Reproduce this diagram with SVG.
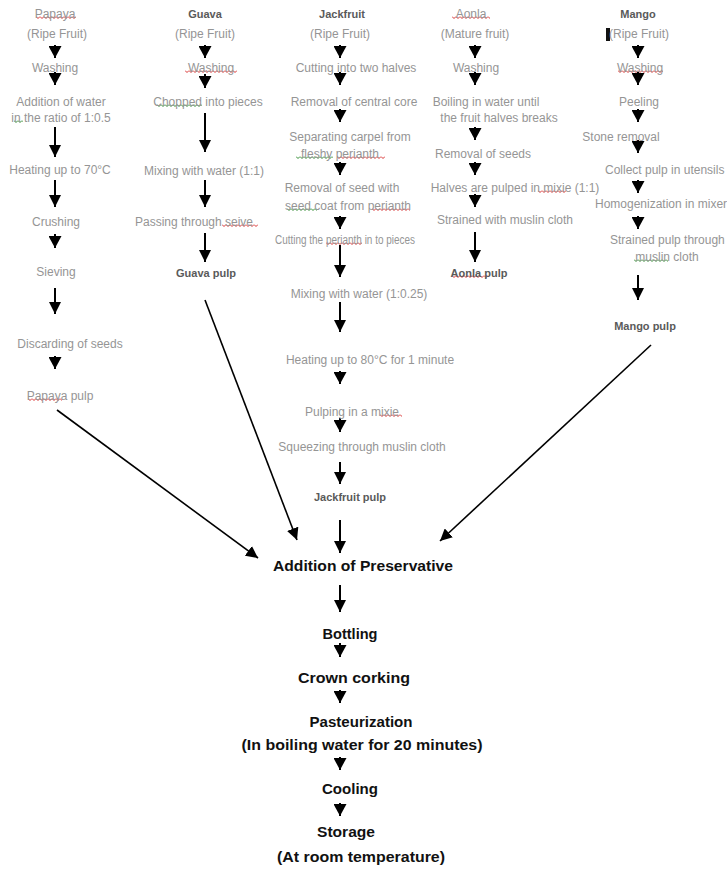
<svg xmlns="http://www.w3.org/2000/svg" width="727" height="869" viewBox="0 0 727 869">
<defs>
<style>
.s{font-family:"Liberation Sans",Arial,sans-serif;font-size:12px;fill:#959595;text-anchor:middle}
.h{font-family:"Liberation Sans",Arial,sans-serif;font-size:11px;font-weight:bold;fill:#5a5a5a;text-anchor:middle}
.b{font-family:"Liberation Sans",Arial,sans-serif;font-size:14.5px;font-weight:bold;fill:#111;text-anchor:middle}
.st{text-anchor:start}
.c line{stroke:#000;stroke-width:2;fill:none}
.c .d{stroke-width:1.6}
</style>
<marker id="tri" markerUnits="userSpaceOnUse" markerWidth="13" markerHeight="13" refX="12" refY="6.5" orient="auto" viewBox="0 0 13 13">
<path d="M0,0 L12,6.5 L0,13 z" fill="#000"/>
</marker>
<marker id="ah" markerUnits="userSpaceOnUse" markerWidth="13" markerHeight="12" refX="12" refY="6" orient="auto" viewBox="0 0 13 12">
<path d="M0,0 L12,6 L0,12 z" fill="#000"/>
</marker>
<pattern id="sqR" patternUnits="userSpaceOnUse" width="4" height="3">
<path d="M0,0.5 L2,2.5 L4,0.5" stroke="#d83030" stroke-width="1" fill="none"/>
</pattern>
<pattern id="sqG" patternUnits="userSpaceOnUse" width="4" height="3">
<path d="M0,0.5 L2,2.5 L4,0.5" stroke="#2e8a2e" stroke-width="1" fill="none"/>
</pattern>
</defs>
<rect width="727" height="869" fill="#fff"/>

<g id="connectors" class="c">
<!-- Papaya -->
<line x1="55" y1="45" x2="55" y2="58" marker-end="url(#tri)"/>
<line x1="55" y1="72" x2="55" y2="85" marker-end="url(#tri)"/>
<line x1="55" y1="127" x2="55" y2="157" marker-end="url(#ah)"/>
<line x1="55" y1="180" x2="55" y2="207" marker-end="url(#ah)"/>
<line x1="55" y1="234" x2="55" y2="248" marker-end="url(#tri)"/>
<line x1="55" y1="288" x2="55" y2="314" marker-end="url(#ah)"/>
<line x1="55" y1="356" x2="55" y2="369" marker-end="url(#tri)"/>
<!-- Guava -->
<line x1="205" y1="45" x2="205" y2="58" marker-end="url(#tri)"/>
<line x1="205" y1="74" x2="205" y2="88" marker-end="url(#tri)"/>
<line x1="205" y1="113" x2="205" y2="152" marker-end="url(#ah)"/>
<line x1="205" y1="180" x2="205" y2="207" marker-end="url(#ah)"/>
<line x1="205" y1="233" x2="205" y2="262" marker-end="url(#ah)"/>
<!-- Jackfruit -->
<line x1="340" y1="45" x2="340" y2="58" marker-end="url(#tri)"/>
<line x1="340" y1="72" x2="340" y2="85" marker-end="url(#tri)"/>
<line x1="340" y1="109" x2="340" y2="122" marker-end="url(#tri)"/>
<line x1="340" y1="162" x2="340" y2="175" marker-end="url(#tri)"/>
<line x1="340" y1="216" x2="340" y2="229" marker-end="url(#tri)"/>
<line x1="340" y1="245" x2="340" y2="277" marker-end="url(#ah)"/>
<line x1="340" y1="302" x2="340" y2="332" marker-end="url(#ah)"/>
<line x1="340" y1="371" x2="340" y2="384" marker-end="url(#tri)"/>
<line x1="340" y1="418" x2="340" y2="432" marker-end="url(#tri)"/>
<line x1="340" y1="462" x2="340" y2="484" marker-end="url(#ah)"/>
<line x1="340" y1="520" x2="340" y2="553" marker-end="url(#ah)"/>
<!-- Aonla -->
<line x1="475" y1="45" x2="475" y2="58" marker-end="url(#tri)"/>
<line x1="475" y1="72" x2="475" y2="85" marker-end="url(#tri)"/>
<line x1="475" y1="127" x2="475" y2="140" marker-end="url(#tri)"/>
<line x1="475" y1="162" x2="475" y2="175" marker-end="url(#tri)"/>
<line x1="475" y1="194" x2="475" y2="207" marker-end="url(#tri)"/>
<line x1="475" y1="232" x2="475" y2="262" marker-end="url(#ah)"/>
<!-- Mango -->
<line x1="638" y1="45" x2="638" y2="58" marker-end="url(#tri)"/>
<line x1="638" y1="72" x2="638" y2="85" marker-end="url(#tri)"/>
<line x1="638" y1="109" x2="638" y2="122" marker-end="url(#tri)"/>
<line x1="638" y1="140" x2="638" y2="153" marker-end="url(#tri)"/>
<line x1="638" y1="180" x2="638" y2="193" marker-end="url(#tri)"/>
<line x1="638" y1="216" x2="638" y2="229" marker-end="url(#tri)"/>
<line x1="638" y1="275" x2="638" y2="300" marker-end="url(#ah)"/>
<!-- converging -->
<line class="d" x1="57" y1="410" x2="258" y2="558" marker-end="url(#ah)"/>
<line class="d" x1="205" y1="300" x2="297" y2="540" marker-end="url(#ah)"/>
<line class="d" x1="651" y1="345" x2="440" y2="541" marker-end="url(#ah)"/>
<!-- bottom chain -->
<line x1="340" y1="585" x2="340" y2="612" marker-end="url(#ah)"/>
<line x1="340" y1="643" x2="340" y2="657" marker-end="url(#tri)"/>
<line x1="340" y1="690" x2="340" y2="703" marker-end="url(#tri)"/>
<line x1="340" y1="757" x2="340" y2="770" marker-end="url(#tri)"/>
<line x1="340" y1="803" x2="340" y2="816" marker-end="url(#tri)"/>
</g>

<g id="papaya">
<rect width="40" height="3" fill="url(#sqR)" transform="translate(36,16)"/>
<text class="s" x="55" y="18">Papaya</text>
<text class="s" x="57" y="38">(Ripe Fruit)</text>
<text class="s" x="55" y="72">Washing</text>
<text class="s" x="61" y="106">Addition of water</text>
<rect width="9" height="3" fill="url(#sqG)" transform="translate(14,120)"/>
<text class="s" x="61" y="122">in the ratio of 1:0.5</text>
<text class="s" x="60" y="174">Heating up to 70°C</text>
<text class="s" x="56" y="226">Crushing</text>
<text class="s" x="56" y="276">Sieving</text>
<text class="s" x="70" y="348">Discarding of seeds</text>
<rect width="34" height="3" fill="url(#sqR)" transform="translate(28,398)"/>
<text class="s" x="60" y="400">Papaya pulp</text>
</g>

<g id="guava">
<text class="h" x="205" y="18">Guava</text>
<text class="s" x="205" y="38">(Ripe Fruit)</text>
<rect width="52" height="3" fill="url(#sqR)" transform="translate(185,70)"/>
<text class="s" x="211" y="72">Washing</text>
<rect width="45" height="3" fill="url(#sqG)" transform="translate(157,104)"/>
<text class="s" x="208" y="106">Chopped into pieces</text>
<text class="s" x="204" y="175">Mixing with water (1:1)</text>
<rect width="36" height="3" fill="url(#sqR)" transform="translate(222,224)"/>
<text class="s" x="194" y="226">Passing through seive</text>
<text class="h" x="206" y="277">Guava pulp</text>
</g>

<g id="jackfruit">
<text class="h" x="342" y="18">Jackfruit</text>
<text class="s" x="340" y="38">(Ripe Fruit)</text>
<text class="s" x="356" y="72">Cutting into two halves</text>
<text class="s" x="354" y="106">Removal of central core</text>
<text class="s" x="350" y="141">Separating carpel from</text>
<rect width="37" height="3" fill="url(#sqG)" transform="translate(296,156)"/>
<rect width="48" height="3" fill="url(#sqR)" transform="translate(337,156)"/>
<text class="s" x="340" y="158">fleshy perianth</text>
<text class="s" x="342" y="192">Removal of seed with</text>
<rect width="30" height="3" fill="url(#sqG)" transform="translate(287,208)"/>
<rect width="38" height="3" fill="url(#sqR)" transform="translate(372,208)"/>
<text class="s" x="348" y="210">seed coat from perianth</text>
<rect width="36" height="3" fill="url(#sqR)" transform="translate(326,242)"/>
<text class="s" x="345" y="244" textLength="140" lengthAdjust="spacingAndGlyphs">Cutting the perianth in to pieces</text>
<text class="s" x="359" y="298">Mixing with water (1:0.25)</text>
<text class="s" x="370" y="364">Heating up to 80°C for 1 minute</text>
<rect width="22" height="3" fill="url(#sqR)" transform="translate(380,414)"/>
<text class="s" x="352" y="416">Pulping in a mixie</text>
<text class="s" x="362" y="451">Squeezing through muslin cloth</text>
<text class="h" x="350" y="501">Jackfruit pulp</text>
</g>

<g id="aonla">
<rect width="38" height="3" fill="url(#sqR)" transform="translate(452,16)"/>
<text class="s" x="471" y="18">Aonla</text>
<text class="s" x="475" y="38">(Mature fruit)</text>
<text class="s" x="476" y="72">Washing</text>
<text class="s" x="486" y="106">Boiling in water until</text>
<text class="s" x="499" y="122">the fruit halves breaks</text>
<text class="s" x="483" y="158">Removal of seeds</text>
<rect width="28" height="3" fill="url(#sqR)" transform="translate(538,190)"/>
<text class="s" x="515" y="192">Halves are pulped in mixie (1:1)</text>
<text class="s" x="505" y="224">Strained with muslin cloth</text>
<rect width="36" height="3" fill="url(#sqR)" transform="translate(452,275)"/>
<text class="h" x="479" y="277">Aonla pulp</text>
</g>

<g id="mango">
<text class="h" x="638" y="18">Mango</text>
<rect x="606" y="28" width="4" height="13" fill="#111"/>
<text class="s" x="639" y="38">(Ripe Fruit)</text>
<rect width="45" height="3" fill="url(#sqR)" transform="translate(618,70)"/>
<text class="s" x="640" y="72">Washing</text>
<text class="s" x="639" y="106">Peeling</text>
<text class="s" x="621" y="141">Stone removal</text>
<text class="s st" x="605" y="174">Collect pulp in utensils</text>
<text class="s st" x="595" y="208">Homogenization in mixer</text>
<text class="s st" x="610" y="244">Strained pulp through</text>
<rect width="34" height="3" fill="url(#sqG)" transform="translate(634,259)"/>
<text class="s" x="667" y="261">muslin cloth</text>
<text class="h" x="645" y="330">Mango pulp</text>
</g>

<g id="preservative"><text class="b" x="363" y="571" textLength="180" lengthAdjust="spacingAndGlyphs">Addition of Preservative</text></g>
<g id="bottling"><text class="b" x="350" y="639" textLength="55" lengthAdjust="spacingAndGlyphs">Bottling</text></g>
<g id="crown-corking"><text class="b" x="354" y="683" textLength="112" lengthAdjust="spacingAndGlyphs">Crown corking</text></g>
<g id="pasteurization">
<text class="b" x="361" y="727" textLength="103" lengthAdjust="spacingAndGlyphs">Pasteurization</text>
<text class="b" x="362" y="750" textLength="241" lengthAdjust="spacingAndGlyphs">(In boiling water for 20 minutes)</text>
</g>
<g id="cooling"><text class="b" x="350" y="794" textLength="56" lengthAdjust="spacingAndGlyphs">Cooling</text></g>
<g id="storage">
<text class="b" x="346" y="837" textLength="58" lengthAdjust="spacingAndGlyphs">Storage</text>
<text class="b" x="361" y="862" textLength="168" lengthAdjust="spacingAndGlyphs">(At room temperature)</text>
</g>
</svg>
